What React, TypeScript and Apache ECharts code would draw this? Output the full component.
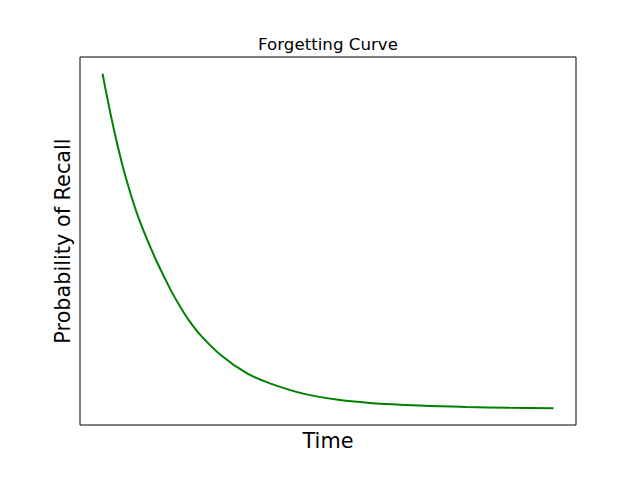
import React, { useEffect, useRef } from "react";
import * as echarts from "echarts";

const timeValues = [0, 1.99, 4.21, 6.07, 7.75, 9.83, 12.04, 14.99, 17.2, 19.04, 21.63, 26.06, 31.97, 37.13, 44.5, 51.89, 59.26, 70.33, 80.67, 90.25, 100];
const recallValues = [1.0, 0.866, 0.737, 0.648, 0.578, 0.506, 0.438, 0.357, 0.304, 0.265, 0.22, 0.161, 0.105, 0.0745, 0.0438, 0.0259, 0.0161, 0.008, 0.0036, 0.0015, 0.0];
const titleText = "Forgetting Curve";
const xLabel = "Time";
const yLabel = "Probability of Recall";

export default function App() {
  const ref = useRef<HTMLDivElement>(null);
  useEffect(() => {
    if (!ref.current) return;
    const chart = echarts.init(ref.current, undefined, { renderer: "svg" });
    const font = "'DejaVu Sans', sans-serif";
    chart.setOption({
      animation: false,
      backgroundColor: "#ffffff",
      grid: {
        left: 80,
        right: 64,
        top: 57,
        bottom: 53,
        show: true,
        borderColor: "#000000",
        borderWidth: 1,
        backgroundColor: "transparent",
      },
      xAxis: {
        type: "value",
        min: -5,
        max: 105,
        axisLine: { show: false },
        axisTick: { show: false },
        axisLabel: { show: false },
        splitLine: { show: false },
        name: xLabel,
        nameLocation: "middle",
        nameGap: 5,
        nameTextStyle: { fontFamily: font, fontSize: 20.8, color: "#000000", verticalAlign: "top" },
      },
      yAxis: {
        type: "value",
        min: -0.05,
        max: 1.05,
        axisLine: { show: false },
        axisTick: { show: false },
        axisLabel: { show: false },
        splitLine: { show: false },
        name: yLabel,
        nameLocation: "middle",
        nameGap: 7,
        nameTextStyle: { fontFamily: font, fontSize: 20.8, color: "#000000", verticalAlign: "bottom" },
      },
      graphic: [
        {
          type: "text",
          x: 328,
          y: 44,
          style: {
            text: titleText,
            fontFamily: font,
            fontSize: 16.67,
            fill: "#000000",
            textAlign: "center",
            textVerticalAlign: "middle",
          },
        },
      ],
      series: [
        {
          type: "line",
          data: timeValues.map((t, i) => [t, recallValues[i]]),
          showSymbol: false,
          smooth: 0.3,
          lineStyle: { color: "#008000", width: 2 },
          itemStyle: { color: "#008000" },
        },
      ],
    });
    return () => chart.dispose();
  }, []);
  return (
    <div
      ref={ref}
      style={{ position: "absolute", left: 0, top: 0, width: 640, height: 478, background: "#fff" }}
    />
  );
}
